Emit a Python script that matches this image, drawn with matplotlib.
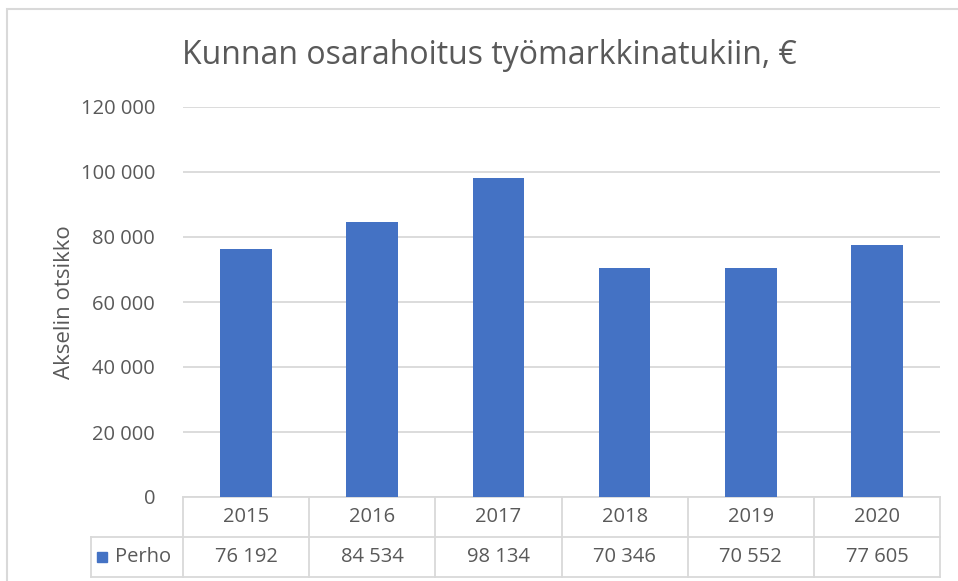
import matplotlib.pyplot as plt
from matplotlib.patches import Rectangle
from matplotlib.transforms import blended_transform_factory

years = ['2015', '2016', '2017', '2018', '2019', '2020']
perho = [76192, 84534, 98134, 70346, 70552, 77605]
yticks = [0, 20000, 40000, 60000, 80000, 100000, 120000]

def fmt(v):
    return '{:,}'.format(v).replace(',', ' ')

plt.rcParams['font.family'] = ['Open Sans', 'DejaVu Sans']
W, H = 958, 581
fig = plt.figure(figsize=(W / 100, H / 100), dpi=100)

# outer chart frame
fig.patches.append(Rectangle((7 / W, -0.1), 1.2, (H - 9) / H + 0.1, transform=fig.transFigure,
                             fill=False, edgecolor='#D9D9D9', linewidth=1.5))

ax = fig.add_axes([183 / W, (H - 497) / H, (940 - 183) / W, (497 - 107) / H])
x = list(range(len(years)))
ax.bar(x, perho, width=0.41, color='#4472C4', zorder=3)
ax.set_xlim(-0.5, len(years) - 0.5)
ax.set_ylim(0, 120000)
ax.set_yticks(yticks)
ax.set_yticklabels([fmt(v) for v in yticks], fontsize=14.5, color='#595959')
ax.tick_params(axis='y', length=0, pad=20)
ax.set_xticks([])
for s in ax.spines.values():
    s.set_visible(False)
ax.grid(axis='y', color='#D9D9D9', linewidth=1.3, zorder=0)
ax.set_ylabel('Akselin otsikko', fontsize=16, color='#595959', labelpad=4)

fig.text(489 / W, 1 - 55 / H, 'Kunnan osarahoitus työmarkkinatukiin, €', ha='center', va='center',
         fontsize=23, color='#595959')

# data table below the axis
tr = blended_transform_factory(ax.transData, ax.transAxes)
rh = 40 / 390
lc = '#D9D9D9'
left = -0.5 - 92 / 126.2
n = len(years)
kw = dict(transform=tr, clip_on=False, color=lc, linewidth=1.3)
ax.plot([-0.5, n - 0.5], [0, 0], **kw)
ax.plot([left, n - 0.5], [-rh, -rh], **kw)
ax.plot([left, n - 0.5], [-2 * rh, -2 * rh], **kw)
ax.plot([left, left], [-rh, -2 * rh], **kw)
for i in range(n + 1):
    ax.plot([i - 0.5, i - 0.5], [0, -2 * rh], **kw)
for i, (yr, v) in enumerate(zip(years, perho)):
    ax.text(i, -rh / 2, yr, transform=tr, ha='center', va='center', fontsize=14.5, color='#595959')
    ax.text(i, -1.5 * rh, fmt(v), transform=tr, ha='center', va='center', fontsize=14.5, color='#595959')
ax.add_patch(Rectangle((left + 0.05, -1.5 * rh - 0.014), 0.08, 0.028, transform=tr,
                       clip_on=False, color='#4472C4'))
ax.text(left + 0.19, -1.5 * rh, 'Perho', transform=tr, ha='left', va='center', fontsize=14.5,
        color='#595959')

fig.savefig('out.png', dpi=100)
